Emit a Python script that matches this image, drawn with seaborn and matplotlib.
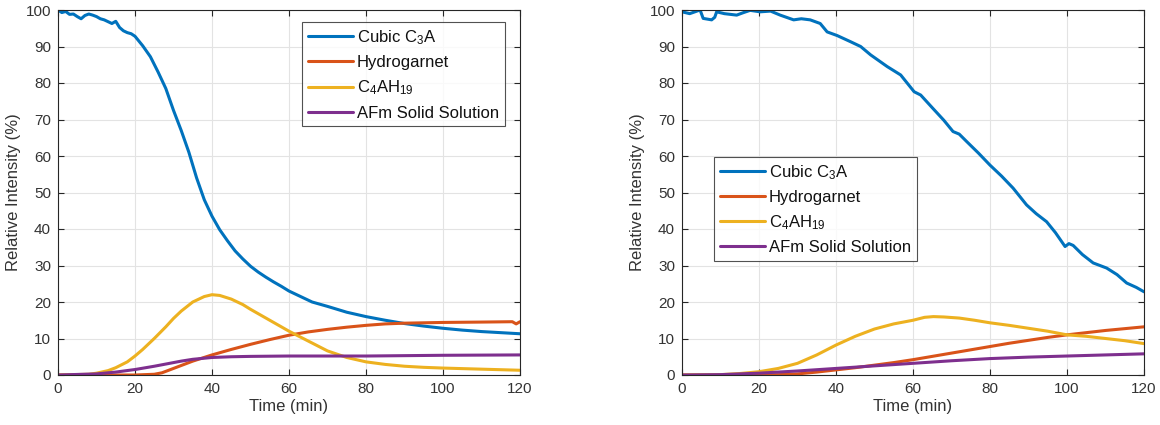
import numpy as np
import pandas as pd
import matplotlib
matplotlib.use("Agg")
import matplotlib.pyplot as plt
import seaborn as sns

# ---------------- data ----------------
# Left panel
L_c3a_t = [0, 1, 2, 3, 4, 5, 6, 7, 8, 9, 10, 11, 12, 13, 14, 15, 16, 17, 18, 19, 20, 22, 24, 26, 28, 30, 32, 34, 36, 38, 40,
           42, 44, 46, 48, 50, 52, 54, 56, 58, 60, 62, 64, 66, 68, 70, 75, 80, 85, 90, 95, 100, 105, 110, 115, 120]
L_c3a_v = [100, 99.3, 99.6, 98.8, 98.9, 98.2, 97.6, 98.5, 98.9, 98.6, 98.2, 97.6, 97.3, 96.8, 96.3, 96.9, 95.2, 94.3, 93.8, 93.5, 92.8,
           90.2, 87.2, 83.0, 78.5, 72.5, 67.0, 61.0, 54.0, 48.0, 43.5,
           39.8, 36.8, 34.0, 31.8, 29.8, 28.2, 26.8, 25.5, 24.3, 23.0, 22.0, 21.0, 20.0, 19.4, 18.8, 17.2, 16.0, 15.0, 14.1, 13.4, 12.8, 12.3, 11.9, 11.6, 11.3]
L_hg_t = [0, 10, 20, 25, 27, 30, 35, 40, 45, 50, 55, 60, 65, 70, 75, 80, 85, 90, 95, 100, 110, 118, 119, 120]
L_hg_v = [0, 0, 0, 0.2, 0.6, 1.8, 3.8, 5.5, 7.0, 8.4, 9.7, 10.9, 11.8, 12.5, 13.1, 13.6, 14.0, 14.2, 14.3, 14.4, 14.5, 14.6, 14.0, 14.6]
L_c4_t = [0, 8, 10, 13, 15, 18, 20, 22, 25, 28, 30, 32, 35, 38, 40, 42, 45, 48, 50, 55, 60, 65, 70, 75, 80, 85, 90, 95, 100, 110, 120]
L_c4_v = [0, 0.2, 0.5, 1.2, 2.0, 3.6, 5.2, 7.0, 10.0, 13.2, 15.5, 17.5, 20.0, 21.5, 22.0, 21.8, 20.8, 19.3, 18.0, 15.0, 12.0, 9.3, 6.6, 4.8, 3.6, 2.9, 2.4, 2.1, 1.9, 1.6, 1.3]
L_afm_t = [0, 10, 15, 20, 25, 28, 32, 35, 40, 45, 50, 60, 80, 100, 120]
L_afm_v = [0, 0.3, 0.8, 1.5, 2.4, 3.0, 3.8, 4.3, 4.8, 5.0, 5.1, 5.2, 5.2, 5.4, 5.5]

# Right panel
R_c3a_t = [0, 2, 4.7, 5.5, 7.7, 8.5, 9, 11, 14.2, 16, 17.7, 20.3, 23, 25.5, 29, 31, 33.3, 35.9, 37.7, 40.3, 43.8, 46.4, 49, 53.3, 56.8,
           60.3, 62, 65.2, 68, 70.4, 72, 74, 77, 80, 83, 86, 89.5, 92, 94.7, 97, 99.5, 100.5, 101.6, 104, 106.8, 110.3, 113, 115.5, 118, 120]
R_c3a_v = [99.5, 99.0, 100, 97.7, 97.3, 98.0, 99.5, 99.0, 98.6, 99.3, 99.9, 99.5, 99.7, 98.6, 97.3, 97.6, 97.3, 96.3, 94.0, 93.0, 91.3, 90.0, 87.7, 84.5, 82.2,
           77.6, 76.7, 73.0, 69.8, 66.7, 66.0, 63.9, 60.8, 57.5, 54.5, 51.2, 46.6, 44.2, 42.0, 39.0, 35.2, 36.0, 35.5, 33.0, 30.7, 29.3, 27.5, 25.2, 24.0, 22.8]
R_hg_t = [0, 10, 20, 25, 30, 35, 40, 45, 50, 55, 60, 65, 70, 75, 80, 85, 90, 95, 100, 105, 110, 115, 120]
R_hg_v = [0, 0, 0, 0.1, 0.3, 0.8, 1.4, 2.0, 2.7, 3.4, 4.2, 5.1, 6.0, 6.9, 7.8, 8.7, 9.5, 10.3, 11.0, 11.6, 12.2, 12.7, 13.2]
R_c4_t = [0, 10, 15, 20, 25, 30, 35, 40, 45, 50, 55, 60, 63, 65.3, 68, 72, 76, 80, 85, 90, 95, 100, 105, 110, 115, 120]
R_c4_v = [0, 0.1, 0.4, 0.9, 1.8, 3.2, 5.5, 8.2, 10.6, 12.6, 14.0, 15.0, 15.8, 16.0, 15.9, 15.6, 15.0, 14.3, 13.6, 12.8, 12.0, 11.0, 10.6, 10.0, 9.4, 8.6]
R_afm_t = [0, 10, 20, 30, 40, 50, 60, 70, 80, 90, 100, 110, 120]
R_afm_v = [0, 0.1, 0.5, 1.1, 1.8, 2.5, 3.2, 3.9, 4.5, 4.9, 5.2, 5.5, 5.8]

labels = ["Cubic C$_3$A", "Hydrogarnet", "C$_4$AH$_{19}$", "AFm Solid Solution"]
colors = ["#0072BD", "#D95319", "#EDB120", "#7E2F8E"]


def build(series):
    frames = []
    for lab, (t, v) in zip(labels, series):
        frames.append(pd.DataFrame({"Time": t, "Value": v, "Phase": lab}))
    return pd.concat(frames, ignore_index=True)


df_left = build([(L_c3a_t, L_c3a_v), (L_hg_t, L_hg_v), (L_c4_t, L_c4_v), (L_afm_t, L_afm_v)])
df_right = build([(R_c3a_t, R_c3a_v), (R_hg_t, R_hg_v), (R_c4_t, R_c4_v), (R_afm_t, R_afm_v)])

# ---------------- style ----------------
sns.set_style("ticks")
plt.rcParams["font.family"] = ["Liberation Sans", "DejaVu Sans"]
plt.rcParams["mathtext.fontset"] = "custom"
plt.rcParams["mathtext.rm"] = "Liberation Sans"
plt.rcParams["mathtext.it"] = "Liberation Sans"
plt.rcParams["mathtext.default"] = "regular"

fig = plt.figure(figsize=(11.6, 4.25), dpi=100)
ax1 = fig.add_axes([58 / 1160, 50 / 425, 462 / 1160, 365 / 425])
ax2 = fig.add_axes([682 / 1160, 50 / 425, 462 / 1160, 365 / 425])

axcol = "#262626"
txtcol = "#333333"
for ax, df, anchor, loc in [(ax1, df_left, (0.967, 0.966), "upper right"),
                            (ax2, df_right, (0.069, 0.597), "upper left")]:
    sns.lineplot(data=df, x="Time", y="Value", hue="Phase", hue_order=labels,
                 palette=colors, linewidth=2.2, ax=ax, sort=False, estimator=None)
    ax.set_xlim(0, 120)
    ax.set_ylim(0, 100)
    ax.set_xticks(np.arange(0, 121, 20))
    ax.set_yticks(np.arange(0, 101, 10))
    ax.grid(True, color="#e3e3e3", linewidth=0.8)
    ax.set_axisbelow(True)
    ax.tick_params(direction="in", top=True, right=True, length=4, width=0.8,
                   colors=axcol, labelsize=11, labelcolor=txtcol, pad=5)
    for sp in ax.spines.values():
        sp.set_visible(True)
        sp.set_color(axcol)
        sp.set_linewidth(0.8)
    ax.set_xlabel("Time (min)", fontsize=12, color=txtcol, labelpad=2)
    ax.set_ylabel("Relative Intensity (%)", fontsize=12, color=txtcol, labelpad=3)
    handles, labs = ax.get_legend_handles_labels()
    leg = ax.legend(handles, labs, loc=loc, bbox_to_anchor=anchor, fontsize=12,
                    frameon=True, fancybox=False, edgecolor="#262626",
                    handlelength=2.7, handletextpad=0.25, borderpad=0.35,
                    labelspacing=0.5, borderaxespad=0.0, title=None)
    leg.get_frame().set_linewidth(0.8)
    for text in leg.get_texts():
        text.set_color("#111111")
    for line in leg.get_lines():
        line.set_linewidth(2.2)

fig.savefig("out.png", dpi=100)
